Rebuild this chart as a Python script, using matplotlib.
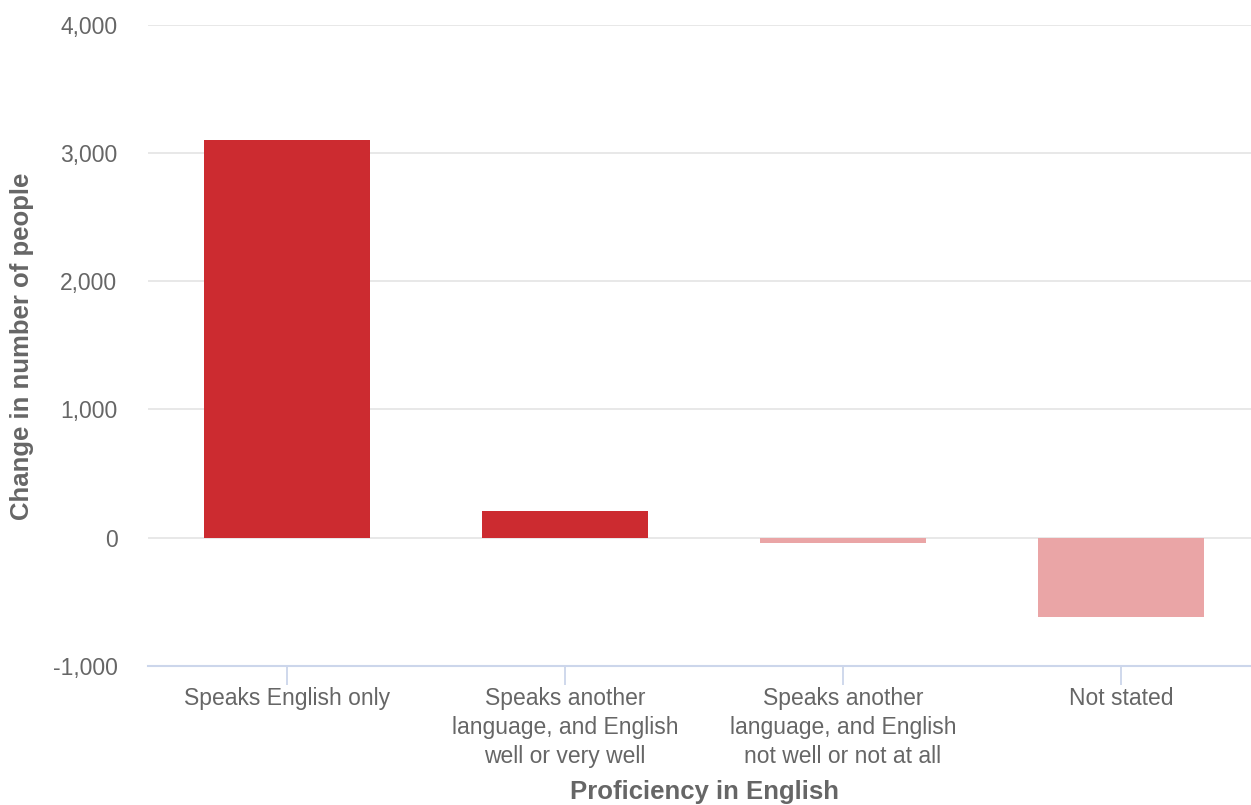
import matplotlib.pyplot as plt
from matplotlib.ticker import FuncFormatter

categories = [
    "Speaks English only",
    "Speaks another\nlanguage, and English\nwell or very well",
    "Speaks another\nlanguage, and English\nnot well or not at all",
    "Not stated",
]
change = [3100, 210, -45, -620]
bar_colors = ["#cc2b30", "#cc2b30", "#eaa5a6", "#eaa5a6"]
y_ticks = [-1000, 0, 1000, 2000, 3000, 4000]

plt.rcParams["font.family"] = ["Liberation Sans", "DejaVu Sans"]

W, H = 1251, 805
fig = plt.figure(figsize=(W / 100, H / 100), dpi=100)
# plot area in pixels: x 148..1260, y 25..665.7
ax = fig.add_axes([148 / W, (H - 665.7) / H, (1260 - 148) / W, (665.7 - 25) / H])

x = range(len(categories))
ax.bar(x, change, width=0.6, color=bar_colors, zorder=3)

ax.set_xlim(-0.5, len(categories) - 0.5)
ax.set_ylim(-1000, 4000)
ax.set_yticks(y_ticks)
ax.yaxis.set_major_formatter(FuncFormatter(lambda v, p: f"{int(v):,}"))
ax.grid(axis="y", color="#e6e6e6", linewidth=1.3, zorder=0)

ax.set_xticks(list(x))
ax.set_xticklabels(categories, fontsize=16.5, color="#666666", linespacing=1.32)

ax.tick_params(axis="y", length=0, pad=22, labelsize=16.5, labelcolor="#666666")
ax.tick_params(axis="x", length=14, width=1.3, color="#ccd6eb", pad=1.5)

for side in ["top", "right", "left"]:
    ax.spines[side].set_visible(False)
ax.spines["bottom"].set_color("#ccd6eb")
ax.spines["bottom"].set_linewidth(1.5)

fig.text(22 / W, 1 - 346 / H, "Change in number of people", rotation=90,
         ha="center", va="center", fontsize=18.5, fontweight="bold", color="#666666")
fig.text(704 / W, 1 - 792 / H, "Proficiency in English",
         ha="center", va="center", fontsize=18.5, fontweight="bold", color="#666666")

fig.savefig("out.png", dpi=100, facecolor="white")
